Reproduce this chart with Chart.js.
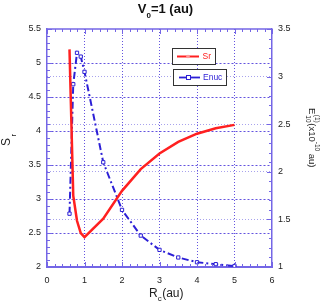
<!DOCTYPE html>
<html><head><meta charset="utf-8">
<script src="https://cdn.jsdelivr.net/npm/chart.js@4"></script>
<style>html,body{margin:0;padding:0;background:#fff;}#wrap{width:326px;height:307px;position:relative;}</style>
</head><body><div id="wrap"><canvas id="c" width="326" height="307"></canvas></div>
<script>
const rcValues = [0.6, 0.7, 0.8, 0.9, 1.0, 1.5, 2.0, 2.5, 3.0, 3.5, 4.0, 4.5, 5.0];
const srValues = [5.2, 3.05, 2.68, 2.5, 2.44, 2.71, 3.12, 3.44, 3.67, 3.84, 3.96, 4.04, 4.09];
const enucValues = [1.56, 2.92, 3.25, 3.21, 3.05, 2.10, 1.60, 1.33, 1.18, 1.10, 1.05, 1.03, 1.01];
const xTicks = [0, 1, 2, 3, 4, 5, 6];
const yLeftTicks = [2, 2.5, 3, 3.5, 4, 4.5, 5, 5.5];
const yRightTicks = [1, 1.5, 2, 2.5, 3, 3.5];
const seriesNames = ['Sr', 'Enuc'];

const FONT = "'Liberation Sans', Arial, sans-serif";
const axisColor = '#7466e6';
const gridLeft = 'rgba(60,40,215,0.8)';
const gridRight = 'rgba(110,100,225,0.6)';
const redColor = '#ff2020';
const blueColor = '#2c1fd6';
const clear = 'rgba(0,0,0,0)';
const fmt = v => String(Number(v));

function gridFor(minV, maxV, col) {
  return c => (c.tick && (c.tick.value === minV || c.tick.value === maxV)) ? clear : col;
}

const overlay = {
  id: 'overlay',
  afterDraw(chart) {
    const ctx = chart.ctx;
    const a = chart.chartArea;
    const sx = chart.scales.x, sy = chart.scales.y, sy2 = chart.scales.y2;
    ctx.save();
    ctx.strokeStyle = axisColor; ctx.lineWidth = 1.5;
    ctx.beginPath(); ctx.moveTo(a.left, a.top); ctx.lineTo(a.right, a.top); ctx.stroke();
    ctx.lineWidth = 1;
    ctx.beginPath();
    for (let i = 0; i <= 30; i++) {
      const v = i / 5; const px = Math.round(sx.getPixelForValue(v)) + 0.5;
      const L = (i % 5 === 0) ? 5 : 3;
      ctx.moveTo(px, a.bottom); ctx.lineTo(px, a.bottom - L);
      ctx.moveTo(px, a.top); ctx.lineTo(px, a.top + L);
    }
    for (let i = 20; i <= 55; i++) {
      const v = i / 10; const py = Math.round(sy.getPixelForValue(v)) + 0.5;
      const L = (i % 5 === 0) ? 5 : 3;
      ctx.moveTo(a.left, py); ctx.lineTo(a.left + L, py);
    }
    for (let i = 10; i <= 35; i++) {
      const v = i / 10; const py = Math.round(sy2.getPixelForValue(v)) + 0.5;
      const L = (i % 5 === 0) ? 5 : 3;
      ctx.moveTo(a.right, py); ctx.lineTo(a.right - L, py);
    }
    ctx.stroke();

    ctx.fillStyle = '#111';
    ctx.textBaseline = 'alphabetic';
    ctx.textAlign = 'left';
    ctx.font = `bold 13px ${FONT}`;
    const wV = ctx.measureText('V').width;
    const wRest = ctx.measureText('=1 (au)').width;
    ctx.font = `bold 8px ${FONT}`;
    const w0 = ctx.measureText('0').width;
    let tx = 165.5 - (wV + w0 + wRest) / 2;
    ctx.font = `bold 13px ${FONT}`; ctx.fillText('V', tx, 13);
    ctx.font = `bold 8px ${FONT}`; ctx.fillText('0', tx + wV, 18);
    ctx.font = `bold 13px ${FONT}`; ctx.fillText('=1 (au)', tx + wV + w0, 13);

    ctx.fillStyle = '#222';
    ctx.font = `12px ${FONT}`;
    let bx = 149;
    ctx.fillText('R', bx, 297); bx += ctx.measureText('R').width;
    ctx.font = `8px ${FONT}`; ctx.fillText('c', bx, 301); bx += ctx.measureText('c').width + 0.5;
    ctx.font = `12px ${FONT}`; ctx.fillText('(au)', bx, 297);

    ctx.save();
    ctx.translate(9.5, 146); ctx.rotate(-Math.PI / 2);
    ctx.font = `12px ${FONT}`; ctx.fillText('S', 0, 0);
    const wS = ctx.measureText('S').width;
    ctx.font = `8px ${FONT}`; ctx.fillText('r', wS + 1.5, 6);
    ctx.restore();

    ctx.save();
    ctx.translate(309, 108); ctx.rotate(Math.PI / 2);
    let rx = 0;
    ctx.font = `9.5px ${FONT}`; ctx.fillText('E', rx, 0); rx += ctx.measureText('E').width;
    ctx.font = `6.5px ${FONT}`;
    ctx.fillText('(1)', rx + 0.5, -5.5);
    const wSup = ctx.measureText('(1)').width;
    ctx.fillText('10', rx + 1, 3.5);
    const wSub = ctx.measureText('10').width;
    rx += Math.max(wSup + 0.5, wSub + 1) + 0.5;
    ctx.font = `9.5px ${FONT}`; ctx.fillText('(x10', rx, 0); rx += ctx.measureText('(x10').width;
    ctx.font = `6.5px ${FONT}`; ctx.fillText('-10', rx, -5.5); rx += ctx.measureText('-10').width;
    ctx.font = `9.5px ${FONT}`; ctx.fillText(' au)', rx, 0);
    ctx.restore();

    ctx.font = `8.5px ${FONT}`;
    ctx.textBaseline = 'middle';
    ctx.fillStyle = '#fff';
    ctx.strokeStyle = '#333'; ctx.lineWidth = 1;
    ctx.fillRect(172.5, 48.5, 43, 16); ctx.strokeRect(172.5, 48.5, 43, 16);
    ctx.strokeStyle = redColor; ctx.lineWidth = 2;
    ctx.beginPath(); ctx.moveTo(177, 56.5); ctx.lineTo(199, 56.5); ctx.stroke();
    ctx.fillStyle = '#ff9a9a'; ctx.beginPath(); ctx.arc(188, 56.5, 1.8, 0, Math.PI * 2); ctx.fill();
    ctx.fillStyle = redColor; ctx.fillText(seriesNames[0], 202.5, 57);
    ctx.fillStyle = '#fff';
    ctx.strokeStyle = '#333'; ctx.lineWidth = 1;
    ctx.fillRect(173.5, 69.5, 53, 16); ctx.strokeRect(173.5, 69.5, 53, 16);
    ctx.strokeStyle = blueColor; ctx.lineWidth = 1.8;
    ctx.beginPath(); ctx.moveTo(179, 77.5); ctx.lineTo(200, 77.5); ctx.stroke();
    ctx.fillStyle = '#fff'; ctx.lineWidth = 1;
    ctx.fillRect(186.5, 75.5, 4, 4); ctx.strokeRect(186.5, 75.5, 4, 4);
    ctx.fillStyle = blueColor; ctx.fillText(seriesNames[1], 203, 78);
    ctx.restore();
  }
};

new Chart(document.getElementById('c'), {
  type: 'line',
  data: {
    datasets: [
      {
        label: seriesNames[0],
        data: rcValues.map((x, i) => ({ x, y: srValues[i] })),
        yAxisID: 'y', borderColor: redColor, borderWidth: 2.5,
        pointRadius: 0, tension: 0, fill: false
      },
      {
        label: seriesNames[1],
        data: rcValues.map((x, i) => ({ x, y: enucValues[i] })),
        yAxisID: 'y2', borderColor: blueColor, borderWidth: 2,
        borderDash: [7, 3, 2, 3], tension: 0, fill: false,
        pointStyle: 'rect', pointRadius: 2.3, pointBackgroundColor: '#fff',
        pointBorderColor: blueColor, pointBorderWidth: 1
      }
    ]
  },
  options: {
    animation: false, responsive: false, devicePixelRatio: 1,
    layout: { padding: { top: 29, left: 0, right: 0, bottom: 0 } },
    plugins: { legend: { display: false }, title: { display: false }, tooltip: { enabled: false } },
    scales: {
      x: {
        type: 'linear', min: 0, max: 6,
        afterFit(s) { s.height = 40; },
        afterBuildTicks(s) { s.ticks = xTicks.map(v => ({ value: v })); },
        ticks: { padding: 8, color: '#222', font: { family: FONT, size: 9 }, callback: fmt },
        grid: { color: gridFor(0, 6, gridLeft), lineWidth: 1, drawTicks: false },
        border: { display: true, color: axisColor, width: 2, dash: [1, 2] }
      },
      y: {
        type: 'linear', position: 'left', min: 2, max: 5.5,
        afterFit(s) { s.width = 47; },
        afterBuildTicks(s) { s.ticks = yLeftTicks.map(v => ({ value: v })); },
        ticks: { padding: 6, color: '#222', font: { family: FONT, size: 9 }, callback: fmt },
        grid: { color: gridFor(2, 5.5, gridLeft), lineWidth: 1, drawTicks: false },
        border: { display: true, color: axisColor, width: 1.5, dash: [2, 2] }
      },
      y2: {
        type: 'linear', position: 'right', min: 1, max: 3.5,
        afterFit(s) { s.width = 54; },
        afterBuildTicks(s) { s.ticks = yRightTicks.map(v => ({ value: v })); },
        ticks: { padding: 6, color: '#222', font: { family: FONT, size: 9 }, callback: fmt },
        grid: { color: gridFor(1, 3.5, gridRight), lineWidth: 1, drawTicks: false },
        border: { display: true, color: axisColor, width: 1.5, dash: [1, 2] }
      }
    }
  },
  plugins: [overlay]
});
</script>
</body></html>
